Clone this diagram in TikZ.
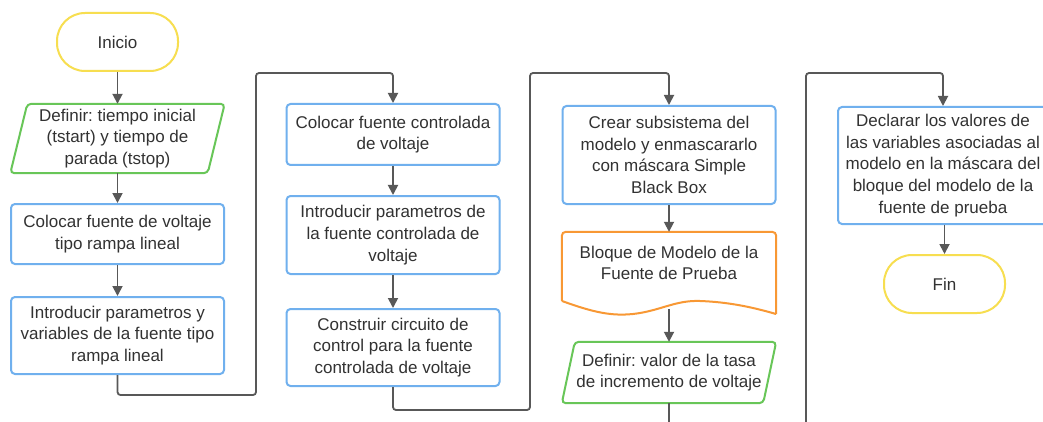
\documentclass[tikz,border=0pt]{standalone}
\usepackage{fontspec}
\setmainfont{Liberation Sans}
\usetikzlibrary{arrows.meta}
\definecolor{termyellow}{RGB}{247,222,80}
\definecolor{iogreen}{RGB}{104,198,88}
\definecolor{procblue}{RGB}{112,176,238}
\definecolor{docorange}{RGB}{248,152,52}
\definecolor{linkgray}{RGB}{88,88,88}
\definecolor{txtgray}{RGB}{50,50,50}
\frenchspacing

\begin{document}
\begin{tikzpicture}[x=1pt,y=-1pt,
  every node/.style={text=txtgray, font=\fontsize{17}{21.7}\selectfont, align=center, inner sep=0pt},
  terminal/.style={draw=termyellow, line width=2pt, rounded corners=28pt, minimum height=58pt, minimum width=121pt},
  process/.style={draw=procblue, line width=2pt, rounded corners=4pt, minimum width=213pt},
  iobox/.style={minimum width=214pt},
  ioline/.style={draw=iogreen, line width=2pt, rounded corners=4pt},
  docline/.style={draw=docorange, line width=2pt, rounded corners=4pt},
  link/.style={draw=linkgray, line width=1.8pt, -{Triangle[length=10pt,width=10pt]}, rounded corners=3pt},
]
\useasboundingbox (0,0) rectangle (1043,422);
\fill[white] (0,0) rectangle (1043,422);
\clip (0,0) rectangle (1043,422);

% first column
\node[terminal] (inicio) at (117.5,42) {Inicio};
\node[iobox, minimum height=69pt] (def1) at (117.5,138.5)
  {Definir: tiempo inicial\\(tstart) y tiempo de\\parada (tstop)};
\draw[ioline] ([xshift=17pt]def1.north west) -- (def1.north east)
  -- ([xshift=-17pt]def1.south east) -- (def1.south west) -- cycle;
\node[process, minimum height=60pt] (b1) at (117.5,234)
  {Colocar fuente de voltaje\\tipo rampa lineal};
\node[process, minimum height=77pt] (b2) at (117.5,335.5)
  {Introducir parametros y\\variables de la fuente tipo\\rampa lineal};

% second column
\node[process, minimum height=61pt] (c1) at (393,134.5)
  {Colocar fuente controlada\\de voltaje};
\node[process, minimum height=78pt] (c2) at (393,235)
  {Introducir parametros de\\la fuente controlada de\\voltaje};
\node[process, minimum height=77pt] (c3) at (393,347.5)
  {Construir circuito de\\control para la fuente\\controlada de voltaje};

% third column
\node[process, minimum height=98pt] (d1) at (669,155)
  {Crear subsistema del\\modelo y enmascararlo\\con máscara Simple\\Black Box};
\node[iobox, minimum height=62pt] (doc) at (669,263)
  {Bloque de Modelo de la\\Fuente de Prueba};
\draw[docline] (562,301) -- (doc.south west) -- (doc.north west) -- (doc.north east)
  -- (doc.south east) -- (776,314);
\draw[draw=docorange, line width=2pt, line join=round]
  (562,301) .. controls (595,313) and (612,316) .. (633,314)
  .. controls (660,311) and (675,300) .. (700,301)
  .. controls (728,302) and (752,307) .. (776,314);
\coordinate (docout) at (669,309);
\node[iobox, minimum height=61pt] (def2) at (669,372.5)
  {Definir: valor de la tasa\\de incremento de voltaje};
\draw[ioline] ([xshift=13pt]def2.north west) -- (def2.north east)
  -- ([xshift=-13pt]def2.south east) -- (def2.south west) -- cycle;

% fourth column
\node[process, minimum height=117pt, minimum width=210pt] (e1) at (943,165.5)
  {Declarar los valores de\\las variables asociadas al\\modelo en la máscara del\\bloque del modelo de la\\fuente de prueba};
\node[terminal] (fin) at (944.5,284) {Fin};

% connectors
\draw[link] (inicio.south) -- (def1.north);
\draw[link] (def1.south) -- (b1.north);
\draw[link] (b1.south) -- (b2.north);
\draw[link] (b2.south) |- (256,395) |- ([yshift=30pt]c1.north) -- (c1.north);
\draw[link] (c1.south) -- (c2.north);
\draw[link] (c2.south) -- (c3.north);
\draw[link] (c3.south) |- (530,410) |- ([yshift=32pt]d1.north) -- (d1.north);
\draw[link] (d1.south) -- (doc.north);
\draw[link] (docout) -- (def2.north);
\draw[link] (def2.south) |- (806,440) |- ([yshift=33pt]e1.north) -- (e1.north);
\draw[link] (e1.south -| fin.north) -- (fin.north);
\end{tikzpicture}
\end{document}
